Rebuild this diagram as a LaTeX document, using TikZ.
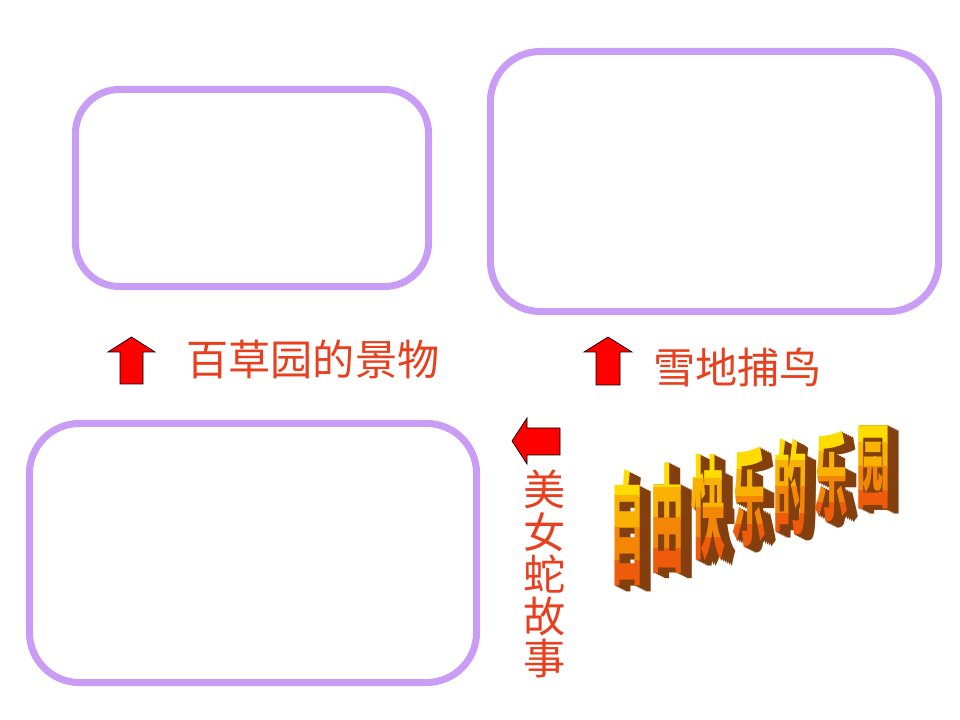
\documentclass[tikz,border=0pt]{standalone}
\usepackage{fontspec}
\newfontfamily\cjk{Noto Sans CJK SC}
\usetikzlibrary{positioning}
\definecolor{lilac}{HTML}{C99CF5}
\definecolor{caption}{HTML}{E8401E}
\definecolor{gold}{HTML}{FFDC00}
\definecolor{flame}{HTML}{EE5A0A}
\definecolor{deep}{HTML}{9A4A10}

\tikzset{
  framebox/.style={draw=lilac, line width=5pt, rounded corners=1.1cm, inner sep=0pt},
  blockarrow/.style={draw=black, fill=red, line width=0.5pt, line join=miter},
  caption/.style={text=caption, font=\cjk\fontsize{30}{30}\selectfont, inner sep=0pt},
  wordart/.style={font=\cjk\bfseries\fontsize{30}{30}\selectfont, inner sep=0pt, xscale=0.8}
}

\begin{document}
\begin{tikzpicture}[x=0.025cm, y=-0.025cm]
  \useasboundingbox[fill=white] (0,0) rectangle (960,720);

  % frames
  \node[framebox, minimum width=8.825cm, minimum height=4.925cm] (garden) at (252,188) {};
  \node[framebox, minimum width=11.2cm, minimum height=6.5cm, rounded corners=1.25cm] (birds) at (714.5,181.5) {};
  \node[framebox, minimum width=11.175cm, minimum height=6.475cm, rounded corners=1.25cm] (snake) at (253,553) {};

  % arrows
  \draw[blockarrow] (120,384) -- (120,352) -- (108,352) -- (131.5,337) -- (155,352) -- (143,352) -- (143,384) -- cycle;
  \draw[blockarrow] (596,385) -- (596,352) -- (584,352) -- (608,337) -- (632,352) -- (620,352) -- (620,385) -- cycle;
  \draw[blockarrow] (560,428) -- (527,428) -- (527,418) -- (512,441) -- (527,464) -- (527,455) -- (560,455) -- cycle;

  % captions
  \node[caption, anchor=west] (gardentext) at (186,359) {百草园的景物};
  \node[caption, anchor=west] (birdtext) at (653,367) {雪地捕鸟};
  \node[caption, align=center, anchor=north] (snaketext) at (545,470) {美\\女\\蛇\\故\\事};

  % word art
  \foreach \ch/\cx/\cy/\sc in {自/627/528/1.00, 由/667/518/0.95, 快/708/508/0.91, 乐/749/497/0.87, 的/790/487/0.83, 乐/831/477/0.79, 园/873/467/0.75}{
    \foreach \d in {11,9,...,1}
      \node[wordart, yscale=2.9*\sc, text=deep!85!black] at (\cx+\d,\cy+0.5*\d) {\ch};
    \foreach \b in {0,...,3}{
      \pgfmathtruncatemacro\mixv{100-33*\b}
      \begin{scope}
        \clip (\cx-35,\cy-64*\sc+\b*32*\sc) rectangle ++(70,32.5*\sc);
        \node[wordart, yscale=2.9*\sc, text=gold!\mixv!flame] at (\cx,\cy) {\ch};
      \end{scope}
    }
  }
\end{tikzpicture}
\end{document}
